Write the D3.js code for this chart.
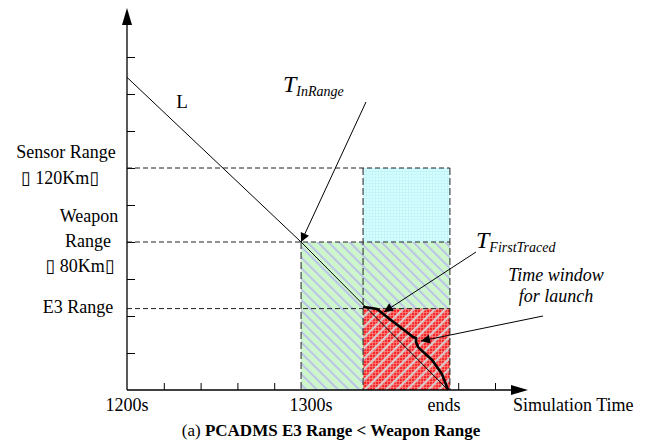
<!DOCTYPE html>
<html><head><meta charset="utf-8">
<script src="https://cdn.jsdelivr.net/npm/d3@7"></script>
<style>
html,body{margin:0;padding:0;background:#fff;}
svg{display:block;}
</style></head>
<body><svg id="c" width="645" height="443"></svg>
<script>
// ---- data ----
const xTickValues = [1220, 1240, 1260, 1280, 1300, 1320, 1340, 1360, 1380, 1400];
const xTickLabels = [["1200s", 1200], ["1300s", 1300], ["ends", 1375.5]];
const yTickValues = [20, 40, 60, 80, 100, 120, 140, 160, 180];
const rangeNames = ["Sensor Range", "Weapon Range", "E3 Range"];
const rangeKm = [120, 80, 44];
const eventNames = ["T_InRange", "T_FirstTraced", "ends"];
const eventTimes = [1294.6, 1328.3, 1375.5];
const lineLTimes = [1200, 1294.6, 1374.5];
const lineLKm = [169, 80, 0];
const launchTimes = [1328.3, 1335.9, 1341.3, 1352.7, 1355.4, 1357.1, 1357.1, 1358.2, 1365.8, 1371.2, 1374.5];
const launchKm = [45.0, 43.8, 39.5, 30.8, 28.6, 28.1, 25.9, 23.2, 16.2, 8.6, 0];

const FONT = "'Liberation Serif', 'Times New Roman', 'DejaVu Serif', serif";

// ---- scales ----
const svg = d3.select("#c");
const x = d3.scaleLinear().domain([1200, 1300]).range([127, 311]);
const y = d3.scaleLinear().domain([0, 120]).range([390, 168]);
const tEnd = x.invert(528), kmTop = y.invert(8);

// patterns
const defs = svg.append("defs");
const pg = defs.append("pattern").attr("id","pGreen").attr("patternUnits","userSpaceOnUse")
  .attr("width",7.5).attr("height",7.5).attr("patternTransform","rotate(-45)");
pg.append("rect").attr("width",7.5).attr("height",7.5).attr("fill","#cdf6cd");
pg.append("rect").attr("x",0).attr("width",2).attr("height",7.5).attr("fill","#bcc3e6");
const pr = defs.append("pattern").attr("id","pRedGrid").attr("patternUnits","userSpaceOnUse")
  .attr("width",3).attr("height",3);
pr.append("rect").attr("width",3).attr("height",3).attr("fill","#f72828");
pr.append("rect").attr("width",3).attr("height",0.7).attr("fill","#ff8a8a");
pr.append("rect").attr("width",0.7).attr("height",3).attr("fill","#ff8a8a");
const ps = defs.append("pattern").attr("id","pRedStripe").attr("patternUnits","userSpaceOnUse")
  .attr("width",7.5).attr("height",7.5).attr("patternTransform","rotate(45)");
ps.append("rect").attr("x",0).attr("width",2.2).attr("height",7.5).attr("fill","#d6cccc");
const pc = defs.append("pattern").attr("id","pCyan").attr("patternUnits","userSpaceOnUse")
  .attr("width",3).attr("height",3);
pc.append("rect").attr("width",3).attr("height",3).attr("fill","#d4ffff");
pc.append("rect").attr("width",3).attr("height",0.6).attr("fill","#c0eff7");
pc.append("rect").attr("width",0.6).attr("height",3).attr("fill","#c0eff7");
const mk = defs.append("marker").attr("id","ah").attr("viewBox","0 0 10 10").attr("refX",10).attr("refY",5)
  .attr("markerWidth",13).attr("markerHeight",9).attr("markerUnits","userSpaceOnUse").attr("orient","auto");
mk.append("path").attr("d","M0,0L10,5L0,10Z").attr("fill","#000");

// ---- axes ticks ----
const gy = svg.append("g").attr("transform",`translate(${x(1200)},0)`)
  .call(d3.axisRight(y).tickValues(yTickValues).tickSize(8).tickSizeOuter(0).tickFormat(""));
const gx = svg.append("g").attr("transform",`translate(0,${y(0)})`)
  .call(d3.axisTop(x).tickValues(xTickValues).tickSize(7).tickSizeOuter(0).tickFormat(""));
[gy, gx].forEach(g => { g.select(".domain").remove(); g.selectAll("line").attr("stroke","#000").attr("stroke-width",1); });

// ---- regions ----
const [tIn, tFirst, tEnds] = eventTimes;
const [kSensor, kWeapon, kE3] = rangeKm;
function rect(t0,t1,k0,k1,fill){
  svg.append("rect").attr("x",x(t0)).attr("y",y(k1)).attr("width",x(t1)-x(t0)).attr("height",y(k0)-y(k1)).attr("fill",fill);
}
rect(tIn, tEnds, 0, kWeapon, "url(#pGreen)");
rect(tFirst, tEnds, kWeapon, kSensor, "url(#pCyan)");
rect(tFirst, tEnds, 0, kE3, "url(#pRedGrid)");
rect(tFirst, tEnds, 0, kE3, "url(#pRedStripe)");

// ---- dashed guides ----
function dash(x1,y1,x2,y2,da){
  svg.append("line").attr("x1",x1).attr("y1",y1).attr("x2",x2).attr("y2",y2)
    .attr("stroke","#222").attr("stroke-width",1).attr("stroke-dasharray",da);
}
rangeKm.forEach(k => dash(x(1200), y(k), x(tEnds), y(k), "5,3"));
dash(x(tIn), y(kWeapon), x(tIn), y(0), "7,3");
dash(x(tFirst), y(kSensor), x(tFirst), y(0), "7,3");
dash(x(tEnds), y(kSensor), x(tEnds), y(0), "7,3");

// ---- axis lines with arrows ----
svg.append("line").attr("x1",x(1200)).attr("y1",y(0)).attr("x2",x(1200)).attr("y2",y(kmTop)+14).attr("stroke","#000").attr("stroke-width",1.3);
svg.append("path").attr("d",`M${x(1200)},${y(kmTop)}L${x(1200)-5},${y(kmTop)+17}L${x(1200)+5},${y(kmTop)+17}Z`).attr("fill","#000");
svg.append("line").attr("x1",x(1200)).attr("y1",y(0)).attr("x2",x(tEnd)-14).attr("y2",y(0)).attr("stroke","#000").attr("stroke-width",1.3);
svg.append("path").attr("d",`M${x(tEnd)},${y(0)}L${x(tEnd)-17},${y(0)-5}L${x(tEnd)-17},${y(0)+5}Z`).attr("fill","#000");

// ---- L line and launch curve ----
const line = d3.line().x(d=>x(d[0])).y(d=>y(d[1]));
svg.append("path").attr("d", line(d3.zip(lineLTimes, lineLKm))).attr("fill","none").attr("stroke","#000").attr("stroke-width",1);
svg.append("path").attr("d", line(d3.zip(launchTimes, launchKm))).attr("fill","none").attr("stroke","#000").attr("stroke-width",2.6).attr("stroke-linejoin","round");

// ---- annotation arrows ----
function arrow(x1,y1,x2,y2){
  svg.append("line").attr("x1",x1).attr("y1",y1).attr("x2",x2).attr("y2",y2)
    .attr("stroke","#000").attr("stroke-width",1).attr("marker-end","url(#ah)");
}
arrow(366, 102, x(tIn), y(kWeapon));
arrow(476, 252, 384, 312);
arrow(543, 316, 421, 341);

// ---- text ----
function txt(s, px, py, opts={}){
  const t = svg.append("text").attr("x",px).attr("y",py).attr("font-size",opts.size||18)
    .attr("font-family",FONT)
    .attr("text-anchor",opts.anchor||"middle").attr("fill","#000");
  if(opts.style) t.attr("font-style",opts.style);
  if(opts.weight) t.attr("font-weight",opts.weight);
  t.text(s); return t;
}
txt(rangeNames[0], 66, 158);
txt("\u25AF  " + kSensor + "Km\u25AF", 60, 184);
txt("Weapon", 89, 222);
txt("Range", 88, 247);
txt("\u25AF  " + kWeapon + "Km\u25AF", 80, 272);
txt(rangeNames[2], 78, 313);

xTickLabels.forEach(([s,t]) => txt(s, x(t) - (s==="ends"?6:0), 411));
txt("Simulation Time", 513, 411, {anchor:"start"});

txt("L", 182, 108, {size:19});

function sub(main, subs, px, py){
  const t = svg.append("text").attr("x",px).attr("y",py).attr("font-style","italic").attr("font-family",FONT).attr("fill","#000");
  t.append("tspan").attr("font-size",24).text(main);
  t.append("tspan").attr("font-size",14).attr("dy",4).text(subs);
}
sub("T", "InRange", 283, 92);
sub("T", "FirstTraced", 476, 248);
txt("Time window", 556, 281, {style:"italic"});
txt("for launch", 556, 302, {style:"italic"});

const cap = svg.append("text").attr("x",331).attr("y",436).attr("text-anchor","middle").attr("font-size",17)
  .attr("font-family",FONT).attr("fill","#000");
cap.append("tspan").text("(a) ");
cap.append("tspan").attr("font-weight","bold").text("PCADMS E3 Range < Weapon Range");
</script></body></html>
